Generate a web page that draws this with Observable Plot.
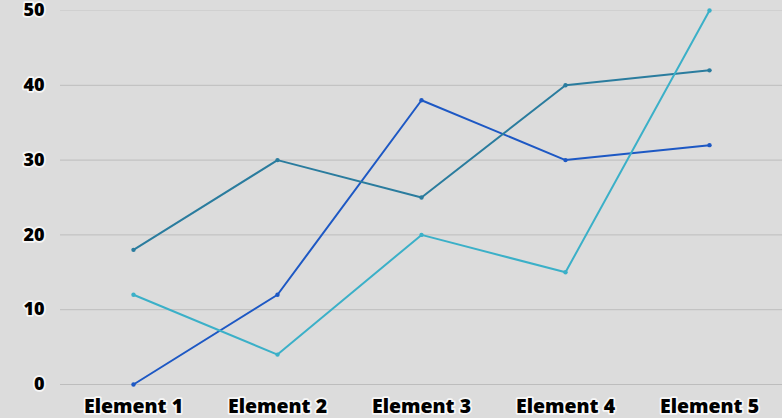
<!DOCTYPE html>
<html>
<head>
<meta charset="utf-8">
<script src="https://cdn.jsdelivr.net/npm/d3@7"></script>
<script src="https://cdn.jsdelivr.net/npm/@observablehq/plot@0.6"></script>
<style>
  html, body { margin: 0; padding: 0; background: #dcdcdc; }
  #chart svg { display: block; background: #dcdcdc; overflow: visible; }
  #chart text { font-family: "Open Sans", sans-serif; font-weight: 800; fill: #000; paint-order: stroke; stroke: rgba(255,255,255,0.8); stroke-width: 3.5px; stroke-linejoin: round; }
</style>
</head>
<body>
<div id="chart"></div>
<script>
const categories = ["Element 1", "Element 2", "Element 3", "Element 4", "Element 5"];
const seriesNames = ["Series A", "Series B", "Series C"];
const seriesA = [0, 12, 38, 30, 32];
const seriesB = [18, 30, 25, 40, 42];
const seriesC = [12, 4, 20, 15, 50];
const seriesColors = ["#1d58c4", "#2a7c9e", "#3bb0c8"];
const yTicks = [0, 10, 20, 30, 40, 50];

const allSeries = [seriesA, seriesB, seriesC];
const data = [];
allSeries.forEach((vals, si) => {
  vals.forEach((v, i) => data.push({series: seriesNames[si], category: categories[i], value: v}));
});

const plot = Plot.plot({
  width: 782,
  height: 418,
  marginLeft: 60,
  marginRight: 0,
  marginTop: 10,
  marginBottom: 34,
  style: {background: "#dcdcdc", fontSize: "19px"},
  x: {type: "point", domain: categories, padding: 0.5, label: null},
  y: {domain: [0, 50], label: null},
  color: {domain: seriesNames, range: seriesColors},
  marks: [
    Plot.ruleY(yTicks.filter(d => d !== 50), {stroke: "#bdbdbd", strokeWidth: 1}),
    Plot.ruleY([50], {stroke: "#d0d0d0", strokeWidth: 1}),
    Plot.axisY({ticks: yTicks, tickSize: 0, tickPadding: 16, fontSize: 18, label: null}),
    Plot.axisX({tickSize: 0, tickPadding: 15, fontSize: 19.5, label: null}),
    Plot.line(data, {x: "category", y: "value", z: "series", stroke: "series", strokeWidth: 2}),
    Plot.dot(data, {x: "category", y: "value", fill: "series", r: 2.2})
  ]
});
document.getElementById("chart").appendChild(plot);
</script>
</body>
</html>
